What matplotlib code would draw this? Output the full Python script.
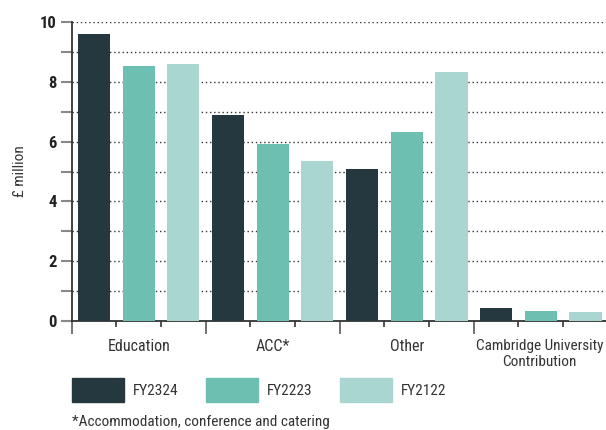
import numpy as np
import matplotlib.pyplot as plt
from matplotlib.patches import Patch

categories = ['Education', 'ACC*', 'Other', 'Cambridge University\nContribution']
years = ['FY2324', 'FY2223', 'FY2122']
fy2324 = [9.61, 6.89, 5.08, 0.43]
fy2223 = [8.54, 5.92, 6.32, 0.32]
fy2122 = [8.60, 5.35, 8.33, 0.29]
colors = ['#253840', '#6dbfb1', '#a9d6d0']

plt.rcParams['font.family'] = ['Roboto Condensed', 'DejaVu Sans']
txt = '#333333'

fig = plt.figure(figsize=(6.06, 4.3), dpi=100)
ax = fig.add_axes([0.1183, 0.2542, 0.8847, 0.6939])

ind = np.arange(len(categories)) * 3
width = 0.72
for i, (vals, c) in enumerate(zip([fy2324, fy2223, fy2122], colors)):
    ax.bar(ind + i + 0.5, vals, width, color=c, zorder=3)

ax.set_xlim(0, 12)
ax.set_ylim(0, 10)

# y axis
ax.set_yticks(np.arange(0, 11, 2))
ax.set_yticks(np.arange(1, 10, 2), minor=True)
ax.tick_params(axis='y', which='both', length=8, width=1.5, color='#888888', pad=3)
for lbl in ax.get_yticklabels():
    lbl.set_fontweight('bold')
    lbl.set_fontsize(12)
    lbl.set_color('#222222')
for y in range(1, 11):
    ax.axhline(y, color='#333333', linestyle=(0, (1, 2)), linewidth=1, zorder=1)

# x axis: long ticks at group edges, short ticks between bars
ax.set_xticks(np.arange(0, 12, 3))
ax.set_xticklabels([])
ax.set_xticks([1, 2, 4, 5, 7, 8, 10, 11], minor=True)
ax.tick_params(axis='x', which='major', length=9.5, width=1.3, color='#666666')
ax.tick_params(axis='x', which='minor', length=4.5, width=1.3, color='#444444')
for x, cat in zip(ind + 1.5, categories):
    fs = 11 if '\n' in cat else 11.5
    ax.text(x - (0.03 if '\n' in cat else 0), -0.6, cat, ha='center', va='top',
            fontsize=fs, color=txt, linespacing=1.2)

for s in ['top', 'right']:
    ax.spines[s].set_visible(False)
ax.spines['left'].set_color('#333333')
ax.spines['bottom'].set_color('#333333')
ax.spines['left'].set_linewidth(1.3)
ax.spines['bottom'].set_linewidth(1.3)

ax.set_ylabel('£ million', fontsize=11, color=txt)
ax.yaxis.set_label_coords(-0.083, 0.5)

handles = [Patch(color=c, label=y) for c, y in zip(colors, years)]
fig.legend(handles=handles, loc='upper left', bbox_to_anchor=(72 / 606, 1 - 378 / 430),
           ncol=3, frameon=False, fontsize=11, handlelength=3.4, handleheight=2.07,
           handletextpad=0.59, columnspacing=1.8, borderpad=0, borderaxespad=0,
           labelcolor=txt)

fig.text(72 / 606, 1 - 422 / 430, '*Accommodation, conference and catering',
         fontsize=11, color=txt, va='center', ha='left')

fig.savefig('out.png', dpi=100)
